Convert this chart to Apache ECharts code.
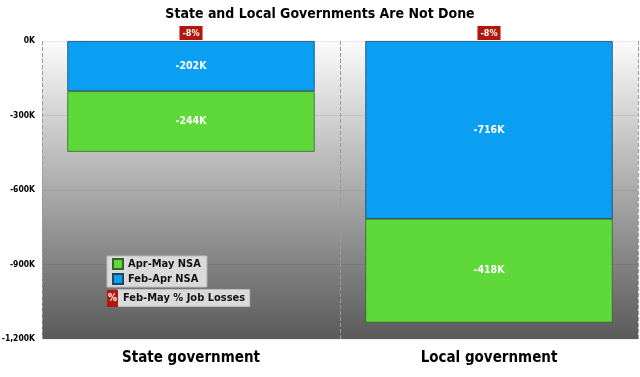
<!DOCTYPE html>
<html>
<head>
<meta charset="utf-8">
<script src="https://cdn.jsdelivr.net/npm/echarts@6/dist/echarts.min.js"></script>
<style>
  html, body { margin: 0; padding: 0; background: #fff; }
  #chart { width: 640px; height: 377px; }
</style>
</head>
<body>
<div id="chart"></div>
<script>
// data (thousands of jobs)
const categories = ['State government', 'Local government'];
const febApr = [-202, -716];
const aprMay = [-244, -418];
const pctLoss = ['-8%', '-8%'];
const yTicks = [0, -300, -600, -900, -1200];

const font = '"Liberation Sans Narrow", "DejaVu Sans Condensed", sans-serif';
const green = '#5fd93a', blue = '#0b9ff4', red = '#b3180c';

let chart = echarts.init(document.getElementById('chart'));

let option = {
    animation: false,
    title: {
        text: 'State and Local Governments Are Not Done',
        left: 'center',
        top: 2,
        textStyle: { fontFamily: font, fontSize: 14, fontWeight: 'bold', color: '#000' }
    },
    grid: {
        left: 42, right: 2, top: 41, bottom: 38,
        outerBoundsMode: 'none',
        containLabel: false,
        show: true,
        borderWidth: 0,
        backgroundColor: {
            type: 'linear', x: 0, y: 0, x2: 0, y2: 1,
            colorStops: [
                { offset: 0, color: '#fbfbfb' },
                { offset: 1, color: '#5a5a5a' }
            ]
        }
    },
    legend: {
        orient: 'vertical',
        left: 107, top: 256,
        data: ['Apr-May NSA', 'Feb-Apr NSA'],
        itemWidth: 10, itemHeight: 10, itemGap: 3,
        backgroundColor: '#dadada',
        borderColor: '#bdbdbd', borderWidth: 1, borderRadius: 0,
        padding: [2, 6, 2, 5],
        icon: 'rect',
        textStyle: { fontFamily: font, fontSize: 11, fontWeight: 'bold', color: '#111' }
    },
    xAxis: {
        type: 'category',
        data: categories,
        axisTick: { show: false },
        axisLine: { show: false },
        axisLabel: { fontFamily: font, fontSize: 15, fontWeight: 'bold', color: '#000', margin: 12 },
        splitLine: { show: true, lineStyle: { color: '#9a9a9a', type: 'dashed', width: 1 } }
    },
    yAxis: {
        type: 'value',
        min: yTicks[yTicks.length - 1], max: yTicks[0], interval: 300,
        axisLine: { show: false },
        axisTick: { show: false },
        axisLabel: {
            fontFamily: font, fontSize: 8.5, fontWeight: 'bold', color: '#000', margin: 7,
            formatter: v => v.toLocaleString('en-US') + 'K'
        },
        splitLine: { lineStyle: { color: 'rgba(0,0,0,0.07)' } }
    },
    series: [
        {
            name: 'Feb-Apr NSA',
            type: 'bar',
            stack: 'jobs',
            barWidth: '83%',
            data: febApr,
            itemStyle: { color: blue, borderColor: '#23435e', borderWidth: 0.8 },
            label: {
                show: true, position: 'inside', color: '#fff',
                fontFamily: font, fontSize: 10.5, fontWeight: 'bold',
                formatter: p => p.value + 'K'
            }
        },
        {
            name: 'Apr-May NSA',
            type: 'bar',
            stack: 'jobs',
            data: aprMay,
            itemStyle: { color: green, borderColor: '#35622a', borderWidth: 0.8 },
            label: {
                show: true, position: 'inside', color: '#fff',
                fontFamily: font, fontSize: 10.5, fontWeight: 'bold',
                formatter: p => p.value + 'K'
            }
        },
        {
            name: 'Feb-May % Job Losses',
            type: 'scatter',
            symbolSize: 0,
            data: pctLoss.map(() => 0),
            itemStyle: { opacity: 1 },
            label: {
                show: true, position: 'top', distance: 1,
                formatter: p => pctLoss[p.dataIndex],
                backgroundColor: red, color: '#fff',
                fontFamily: font, fontSize: 9, fontWeight: 'bold',
                padding: [3, 3, 2, 3]
            },
            z: 10
        }
    ],
    graphic: [
        {
            type: 'group', left: 107, top: 289,
            children: [
                { type: 'text', x: 11, y: 0,
                  style: { text: 'Feb-May % Job Losses', fill: '#111', font: 'bold 11px ' + font,
                           backgroundColor: '#dadada', borderColor: '#bdbdbd', borderWidth: 1,
                           padding: [3, 4, 2, 5] } },
                { type: 'rect', shape: { x: 0, y: 0, width: 11, height: 17 },
                  style: { fill: red } },
                { type: 'text', x: 5.5, y: 8.5,
                  style: { text: '%', fill: '#fff', font: 'bold 10px ' + font, align: 'center', verticalAlign: 'middle' } }
            ]
        }
    ]
};

chart.setOption(option);
</script>
</body>
</html>
